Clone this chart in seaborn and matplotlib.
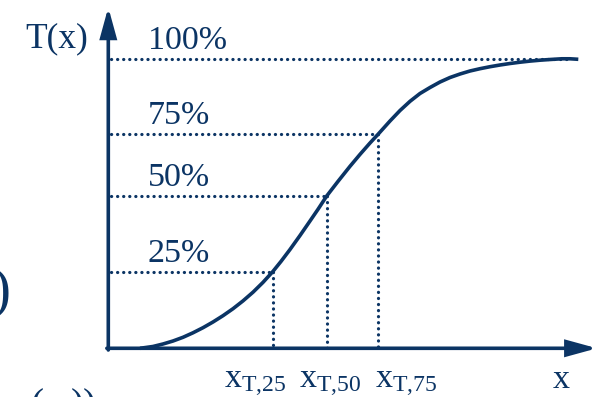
import numpy as np
import matplotlib
matplotlib.use("Agg")
import matplotlib.pyplot as plt
import seaborn as sns

# Cumulative curve T(x): x position and percentage reached
curve_x = [0.649, 0.914, 1.119, 1.324, 1.529, 1.733, 1.938, 2.142, 2.347, 2.552,
           2.756, 2.961, 3.165, 3.364, 3.534, 3.718, 3.923, 4.127, 4.291, 4.469,
           4.700, 4.946, 5.150, 5.355, 5.525, 5.764, 5.969, 6.174, 6.378, 6.583,
           6.787, 6.992, 7.197, 7.401, 7.607, 7.811, 8.016, 8.220, 8.425, 8.629,
           8.834, 9.038, 9.278, 9.448, 9.617]
curve_t = [0, 0.59, 1.40, 2.38, 3.59, 5.06, 6.72, 8.58, 10.64, 12.92,
           15.47, 18.31, 21.51, 25, 28.40, 32.33, 36.96, 41.74, 45.61, 50,
           55.89, 61.98, 66.77, 71.37, 75, 79.33, 82.83, 85.90, 88.50, 90.50,
           92.33, 93.83, 95.00, 96.00, 96.77, 97.43, 98.00, 98.50, 98.93, 99.30,
           99.60, 99.83, 100.07, 100.07, 99.90]

# Reference levels and the x where the curve reaches them
levels = [25, 50, 75, 100]
level_labels = ["25%", "50%", "75%", "100%"]
quantile_x = [3.364, 4.469, 5.525]
quantile_labels = [r"x$_{\mathrm{T{,}25}}$", r"x$_{\mathrm{T{,}50}}$", r"x$_{\mathrm{T{,}75}}$"]
full_level_end = 9.45

NAVY = "#0b3464"

sns.set_theme(style="white")
plt.rcParams["font.family"] = ["Liberation Serif", "DejaVu Serif"]
plt.rcParams["mathtext.fontset"] = "custom"
plt.rcParams["mathtext.rm"] = "Liberation Serif"
plt.rcParams["mathtext.it"] = "Liberation Serif:italic"

fig = plt.figure(figsize=(5.99, 3.97), dpi=100)
ax = fig.add_axes([0.1808, 0.1227, 0.8159, 0.8589])

# Schematic vertical scale: the drawn spacing between the percentage levels
_t_anchor = np.array([-100, 0, 25, 50, 75, 100, 200], dtype=float)
_h_anchor = np.array([-306, 0, 76.6, 152.3, 214.3, 289.3, 589.3])


def _fwd(t):
    return np.interp(t, _t_anchor, _h_anchor)


def _inv(h):
    return np.interp(h, _h_anchor, _t_anchor)


ax.set_yscale("function", functions=(_fwd, _inv))
ax.set_xlim(0, 10)
ax.set_ylim(0, 117.23)

dot_style = dict(color=NAVY, linewidth=2.3, linestyle=(0, (0.05, 1.85)),
                 dash_capstyle="round", zorder=2, clip_on=False)

# Horizontal guides from the axis to the curve
h_ends = quantile_x + [full_level_end]
for lev, xe in zip(levels, h_ends):
    ax.plot([0.05, xe], [lev, lev], **dot_style)

# Vertical guides from the curve down to the x axis
for lev, xq in zip(levels[:3], quantile_x):
    ax.plot([xq, xq], [lev, 0], **dot_style)

# The curve itself
sns.lineplot(x=curve_x, y=curve_t, ax=ax, sort=False, color=NAVY,
             linewidth=2.6, zorder=3, clip_on=False,
             solid_joinstyle="round", solid_capstyle="butt")

# Axes drawn as arrows
arrow = dict(arrowstyle="-|>,head_length=1.75,head_width=0.48",
             color=NAVY, lw=2.6, shrinkA=0, shrinkB=0, mutation_scale=10,
             joinstyle="miter")
ax.annotate("", xy=(0, 1), xytext=(0, -0.005), xycoords="axes fraction",
            textcoords="axes fraction", arrowprops=arrow)
ax.annotate("", xy=(1, 0), xytext=(-0.003, 0), xycoords="axes fraction",
            textcoords="axes fraction", arrowprops=arrow)

for s in ax.spines.values():
    s.set_visible(False)
ax.set_xticks([])
ax.set_yticks([])
ax.set_facecolor("none")

txt = dict(color=NAVY, fontsize=24.5, va="baseline")

# Percentage labels above each guide
for lev, lab in zip(levels, level_labels):
    ax.annotate(lab, xy=(0, lev), xytext=(39.5, 10), textcoords="offset pixels",
                ha="left", **txt)

ax.annotate("T(x)", xy=(0, 100), xytext=(-20, 12), textcoords="offset pixels",
            ha="right", color=NAVY, fontsize=25.5, va="baseline")

# Quantile labels under the x axis
label_shift = [-49, -28, -3]
for xq, lab, dx in zip(quantile_x, quantile_labels, label_shift):
    ax.annotate(lab, xy=(xq, 0), xytext=(dx, -40), textcoords="offset pixels",
                ha="left", **txt)

ax.annotate("x", xy=(9.10, 0), xytext=(0, -39.5), textcoords="offset pixels",
            ha="left", **txt)

# Neighbouring formula parts at the left edge
fig.text(-0.015, 0.226, ")", color=NAVY, fontsize=41, va="baseline", ha="left")
fig.text(0.050, -0.048, "(", color=NAVY, fontsize=28, va="baseline", ha="left")
fig.text(0.118, -0.048, "))", color=NAVY, fontsize=28, va="baseline", ha="left")

fig.savefig("out.png", dpi=100)
